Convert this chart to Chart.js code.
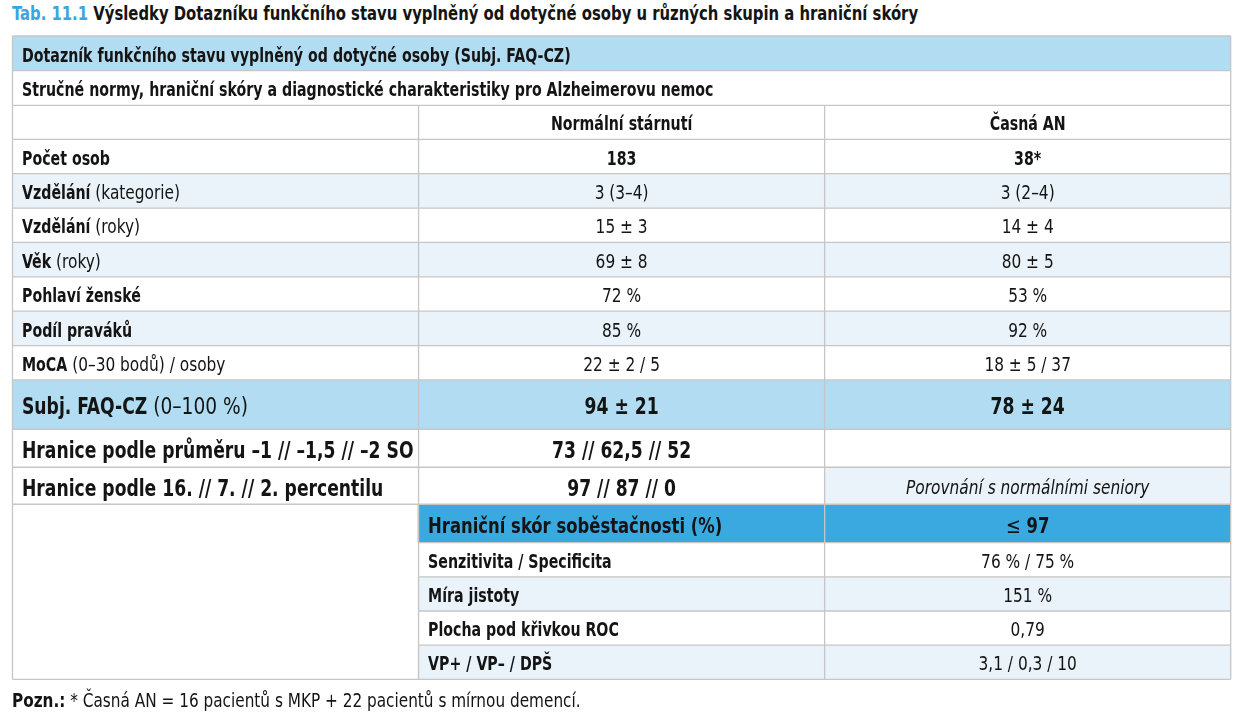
<!DOCTYPE html>
<html lang="cs">
<head>
<meta charset="utf-8">
<title>Tab. 11.1</title>
<script src="https://cdn.jsdelivr.net/npm/chart.js@4.4.1/dist/chart.umd.min.js"></script>
<style>
  html, body { margin: 0; padding: 0; background: #fff; }
  body {
    width: 1243px; height: 720px; position: relative; overflow: hidden;
    font-family: 'Liberation Sans Narrow', 'DejaVu Sans Condensed', sans-serif; color: #141414;
  }
  #title {
    position: absolute; left: 12px; top: 1px; font-size: 20px; font-weight: bold; white-space: nowrap;
    transform: scaleX(0.825); transform-origin: 0 0;
  }
  #title span { color: #3aa6df; }
  #note {
    position: absolute; left: 12px; top: 688px; font-size: 20px; white-space: nowrap;
    transform: scaleX(0.85); transform-origin: 0 0;
  }
  #table { position: absolute; left: 0; top: 0; }
</style>
</head>
<body>
<div id="title"><span>Tab. 11.1</span> Výsledky Dotazníku funkčního stavu vyplněný od dotyčné osoby u různých skupin a hraniční skóry</div>
<canvas id="table" width="1243" height="720"></canvas>
<div id="note"><b>Pozn.:</b> * Časná AN = 16 pacientů s MKP + 22 pacientů s mírnou demencí.</div>
<script>
// texty a hodnoty tabulky
const tableHeading = 'Dotazník funkčního stavu vyplněný od dotyčné osoby (Subj. FAQ-CZ)';
const tableSubheading = 'Stručné normy, hraniční skóry a diagnostické charakteristiky pro Alzheimerovu nemoc';
const groups = ['Normální stárnutí', 'Časná AN'];

const measureNames = ['Počet osob', 'Vzdělání', 'Vzdělání', 'Věk', 'Pohlaví ženské', 'Podíl praváků', 'MoCA'];
const measureUnits = ['', '(kategorie)', '(roky)', '(roky)', '', '', '(0–30 bodů) / osoby'];
const normalValues = ['183', '3 (3–4)', '15 ± 3', '69 ± 8', '72 %', '85 %', '22 ± 2 / 5'];
const earlyAdValues = ['38*', '3 (2–4)', '14 ± 4', '80 ± 5', '53 %', '92 %', '18 ± 5 / 37'];

const faqName = 'Subj. FAQ-CZ';
const faqUnit = '(0–100 %)';
const faqValues = ['94 ± 21', '78 ± 24'];

const cutoffLabels = ['Hranice podle průměru –1 // –1,5 // –2 SO', 'Hranice podle 16. // 7. // 2. percentilu'];
const cutoffValues = ['73 // 62,5 // 52', '97 // 87 // 0'];
const comparisonNote = 'Porovnání s normálními seniory';

const diagLabels = ['Hraniční skór soběstačnosti (%)', 'Senzitivita / Specificita', 'Míra jistoty', 'Plocha pod křivkou ROC', 'VP+ / VP– / DPŠ'];
const diagValues = ['≤ 97', '76 % / 75 %', '151 %', '0,79', '3,1 / 0,3 / 10'];

// vzhled
const COLS = ['popis', 'normal', 'an'];
const HEAD = '#b1dcf1', STRIPE = '#eaf3f9', ACCENT = '#39a9e0', LINE = '#c6c6c6', INK = '#141414';
const FONT = "'Liberation Sans Narrow', 'DejaVu Sans Condensed', sans-serif";
const S = 19, L = 23; // velikosti písma
const SQ_BOLD = 0.83, SQ_REG = 0.9; // zúžení písma (předloha je úzký font)

const run = (t, bold, size, italic) => ({ t, bold, size: size || S, italic: !!italic });

// skladba řádků
const rows = [];
rows.push({ h: 34.7, cells: [{ c0: 0, c1: 3, fill: HEAD, align: 'left', runs: [run(tableHeading, true)] }] });
rows.push({ h: 34.6, cells: [{ c0: 0, c1: 3, align: 'left', runs: [run(tableSubheading, true)] }] });
rows.push({ h: 34, cells: [
  { c0: 0, c1: 1 },
  { c0: 1, c1: 2, runs: [run(groups[0], true)] },
  { c0: 2, c1: 3, runs: [run(groups[1], true)] },
] });
measureNames.forEach((name, i) => {
  const fill = i % 2 === 1 ? STRIPE : null;
  const bold = i === 0;
  rows.push({ h: 34.37, cells: [
    { c0: 0, c1: 1, fill, align: 'left', runs: [run(name, true)].concat(measureUnits[i] ? [run(' ' + measureUnits[i], false)] : []) },
    { c0: 1, c1: 2, fill, runs: [run(normalValues[i], bold)] },
    { c0: 2, c1: 3, fill, runs: [run(earlyAdValues[i], bold)] },
  ] });
});
rows.push({ h: 49.3, cells: [
  { c0: 0, c1: 1, fill: HEAD, align: 'left', runs: [run(faqName, true, L), run(' ' + faqUnit, false, L)] },
  { c0: 1, c1: 2, fill: HEAD, runs: [run(faqValues[0], true, L)] },
  { c0: 2, c1: 3, fill: HEAD, runs: [run(faqValues[1], true, L)] },
] });
rows.push({ h: 38, cells: [
  { c0: 0, c1: 1, align: 'left', runs: [run(cutoffLabels[0], true, L)] },
  { c0: 1, c1: 2, runs: [run(cutoffValues[0], true, L)] },
  { c0: 2, c1: 3 },
] });
rows.push({ h: 37, cells: [
  { c0: 0, c1: 1, align: 'left', runs: [run(cutoffLabels[1], true, L)] },
  { c0: 1, c1: 2, runs: [run(cutoffValues[1], true, L)] },
  { c0: 2, c1: 3, fill: STRIPE, runs: [run(comparisonNote, false, S, true)] },
] });
diagLabels.forEach((label, i) => {
  const cells = [];
  if (i === 0) {
    cells.push({ c0: 0, c1: 1, span: diagLabels.length });
    const le = diagValues[0].split(' ');
    cells.push({ c0: 1, c1: 2, fill: ACCENT, align: 'left', runs: [run(label, true, 22)] });
    cells.push({ c0: 2, c1: 3, fill: ACCENT, runs: [run(le[0] + ' ', false, 22), run(le[1], true, 22)] });
    rows.push({ h: 38.4, cells });
  } else {
    const fill = i % 2 === 0 ? STRIPE : null;
    cells.push({ c0: 1, c1: 2, fill, align: 'left', runs: [run(label, true)] });
    cells.push({ c0: 2, c1: 3, fill, runs: [run(diagValues[i], false)] });
    rows.push({ h: 34.15, cells });
  }
});

// hrany řádků
let acc = 0;
rows.forEach(r => { r.top = acc; acc += r.h; r.bottom = acc; });
const total = acc;
rows.forEach((r, i) => r.cells.forEach(c => {
  if (c.span) c.bottom = rows[i + c.span - 1] ? rows[i + c.span - 1].bottom : r.bottom;
}));

// podbarvení buněk jako sloupce (floating bars)
const fills = [HEAD, STRIPE, ACCENT];
const datasets = fills.map(color => {
  const data = [];
  rows.forEach(r => r.cells.forEach(c => {
    if (c.fill !== color) return;
    for (let k = c.c0; k < c.c1; k++) data.push({ x: COLS[k], y: [r.top, r.bottom] });
  }));
  return { data, backgroundColor: color, borderWidth: 0, grouped: false, barPercentage: 1.004, categoryPercentage: 1 };
});

function fontOf(r) {
  return (r.italic ? 'italic ' : '') + (r.bold ? 'bold ' : '') + r.size + 'px ' + FONT;
}

function drawRuns(ctx, runs, x, y, align) {
  let w = 0;
  runs.forEach(r => {
    ctx.font = fontOf(r);
    r.sq = r.bold ? SQ_BOLD : SQ_REG;
    r.w = ctx.measureText(r.t).width * r.sq;
    w += r.w;
  });
  let cx = align === 'left' ? x : x - w / 2;
  runs.forEach(r => {
    ctx.font = fontOf(r);
    ctx.save();
    ctx.translate(cx, y + r.size * 0.43);
    ctx.scale(r.sq, 1);
    ctx.fillText(r.t, 0, 0);
    ctx.restore();
    cx += r.w;
  });
}

const tablePlugin = {
  id: 'tablePlugin',
  afterDatasetsDraw(chart) {
    const { ctx, scales: { x, y } } = chart;
    const colX = c => x.getPixelForValue(c - 0.5);
    ctx.save();
    // mřížka
    ctx.strokeStyle = LINE;
    ctx.lineWidth = 1.3;
    ctx.beginPath();
    rows.forEach(r => {
      r.cells.forEach(c => {
        const bottom = c.bottom !== undefined ? c.bottom : r.bottom;
        ctx.moveTo(colX(c.c0), y.getPixelForValue(r.top));
        ctx.lineTo(colX(c.c1), y.getPixelForValue(r.top));
        ctx.moveTo(colX(c.c0), y.getPixelForValue(r.top));
        ctx.lineTo(colX(c.c0), y.getPixelForValue(bottom));
      });
    });
    ctx.moveTo(colX(0), y.getPixelForValue(total));
    ctx.lineTo(colX(3), y.getPixelForValue(total));
    ctx.moveTo(colX(3), y.getPixelForValue(0));
    ctx.lineTo(colX(3), y.getPixelForValue(total));
    ctx.stroke();
    // texty
    ctx.fillStyle = INK;
    ctx.textBaseline = 'alphabetic';
    rows.forEach(r => {
      const cy = (y.getPixelForValue(r.top) + y.getPixelForValue(r.bottom)) / 2;
      r.cells.forEach(c => {
        if (!c.runs) return;
        if (c.align === 'left') drawRuns(ctx, c.runs, colX(c.c0) + 9.5, cy, 'left');
        else drawRuns(ctx, c.runs, (colX(c.c0) + colX(c.c1)) / 2, cy, 'center');
      });
    });
    ctx.restore();
  }
};

new Chart(document.getElementById('table'), {
  type: 'bar',
  data: { labels: COLS, datasets },
  options: {
    responsive: false,
    animation: false,
    layout: { padding: { left: 12.5, right: 12.3, top: 36, bottom: 40.7 } },
    plugins: { legend: { display: false }, tooltip: { enabled: false } },
    scales: {
      x: { display: false },
      y: { display: false, min: 0, max: total, reverse: true },
    },
  },
  plugins: [tablePlugin],
});
</script>
</body>
</html>
